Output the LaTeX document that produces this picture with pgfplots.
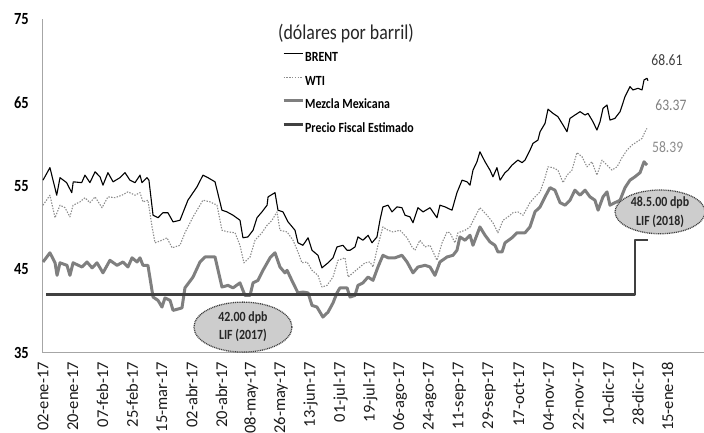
\documentclass[border=0pt]{standalone}
\usepackage{fontspec}
\setmainfont{Carlito}
\newfontfamily\cond[FakeStretch=0.85]{Carlito}
\usepackage{pgfplots}
\pgfplotsset{compat=1.18}
\usetikzlibrary{shapes.geometric}
\definecolor{wticol}{HTML}{8C8C8C}
\definecolor{mezcla}{HTML}{7F7F7F}
\definecolor{fiscal}{HTML}{404040}
\definecolor{axisgray}{HTML}{A6A6A6}
\definecolor{ellfill}{HTML}{CDCDCD}
\begin{document}
\begin{tikzpicture}[x=1pt,y=1pt]
\useasboundingbox (-43,-80) rectangle (661,353);
\begin{axis}[
  at={(0,0)}, anchor=south west, scale only axis,
  width=661pt, height=334pt,
  xmin=0, xmax=400, ymin=35, ymax=75,
  axis x line=bottom, axis y line=left,
  axis line style={axisgray, line width=1pt, -},
  ytick={35,45,55,65,75},
  xtick={0,18,...,378},
  xticklabels={02-ene-17,20-ene-17,07-feb-17,25-feb-17,15-mar-17,02-abr-17,20-abr-17,08-may-17,26-may-17,13-jun-17,01-jul-17,19-jul-17,06-ago-17,24-ago-17,11-sep-17,29-sep-17,17-oct-17,04-nov-17,22-nov-17,10-dic-17,28-dic-17,15-ene-18},
  major tick length=0pt,
  /pgf/number format/assume math mode=true,
  yticklabel style={font=\cond\bfseries\fontsize{17}{17}\selectfont, anchor=east, inner sep=0pt, xshift=-14pt, text=black},
  xticklabel style={rotate=90, anchor=east, inner xsep=9pt, inner ysep=0pt, font=\fontsize{16.5}{16.5}\selectfont, text=black!90},
  no markers,
  clip=false,
  every axis plot/.append style={line join=round},
  legend style={draw=none, fill=none, at={(axis cs:144.6,71.5)}, anchor=north west,
    font=\cond\bfseries\fontsize{14}{14}\selectfont, inner sep=0pt,
    row sep=7pt, nodes={inner sep=0pt, text height=10pt, text depth=3pt},
    /tikz/every odd column/.append style={column sep=1pt}},
  legend cell align=left,
  legend image code/.code={\path[draw=none, fill=none] (0pt,-3pt) rectangle (19pt,10pt); \draw[#1, line cap=butt] (0pt,4.5pt) -- (19pt,4.5pt);},
]
% BRENT
\addplot[black, line width=1.1pt] coordinates {
(0,55.7)(4.2,57.2)(8.3,53.9)(10.3,56.0)(14.3,55.4)(17.4,54.2)(18.3,55.5)(23.4,55.4)(25.4,56.3)(28.4,55.4)
(31.5,56.7)(34.5,56.1)(36.3,55.1)(39.3,56.6)(42.4,55.5)(46.6,56.0)(49.6,56.6)(52.6,55.7)(55.7,55.4)(58.7,56.3)
(59.9,55.4)(62.9,56.0)(64.1,55.7)(66.6,51.5)(69.6,51.2)(72.6,51.8)(75.6,51.8)(78.7,50.7)(82.9,50.9)(84.7,51.8)
(87.7,53.3)(93.2,54.9)(96.8,56.3)(99.8,56.0)(104.1,55.5)(108.3,52.1)(111.3,51.9)(115,51.5)(119.2,50.9)(121,48.8)
(124,48.9)(127.1,49.7)(129.5,51.2)(132.5,51.9)(135.6,52.7)(136.2,53.7)(140.4,54.2)(142.2,52.1)(145.2,51.9)(148.3,50.7)
(152.5,49.7)(154.3,48.2)(157.3,47.9)(160.4,48.8)(162.8,47.3)(166.4,46.7)(168.8,45.2)(172.5,45.8)(175.5,46.4)(177.9,47.7)
(181.5,47.9)(184,47.3)(185.8,47.3)(188.8,47.7)(190.6,48.9)(193.6,48.5)(196.7,49.1)(199.1,48.2)(202.1,48.9)(203.9,50.9)
(205.7,52.5)(208.8,52.7)(211.2,51.9)(214.2,52.5)(217.2,52.4)(219.1,51.5)(222.1,51.3)(223.9,50.6)(226.9,52.4)(230,51.9)
(234.2,52.4)(238.4,51.2)(240.2,52.7)(243.3,52.5)(247.5,52.1)(250.5,54.2)(253.6,55.7)(256.6,55.5)(258.4,55.1)(260.2,56.9)
(262.6,57.9)(264.4,59.1)(267.5,57.9)(270.5,56.9)(272.3,56.1)(274.7,57.2)(276.6,55.7)(279.6,56.6)(281.4,56.9)(283.8,57.5)
(287.4,58.1)(289.9,57.8)(291.7,58.1)(294.7,59.3)(296.5,60.1)(299.5,60.5)(300.8,61.5)(303.8,62.5)(305.6,64.2)(308.6,63.7)
(311.6,63.3)(314.7,62.3)(317.1,61.5)(318.9,63.1)(321.9,63.5)(325,63.9)(328,63.5)(329.8,63.7)(332.8,62.7)(335.2,61.7)
(337.1,62.7)(338.9,64.3)(341.3,64.7)(343.1,62.9)(346.1,63.1)(349.2,63.9)(352.2,65.7)(355.2,66.9)(357,66.5)(360.1,66.7)
(362.5,66.5)(363.7,67.7)(365.5,67.9)(366.1,67.6)
};
\addlegendentry{BRENT}
% WTI
\addplot[wticol, line width=1.1pt, dash pattern=on 1.4pt off 1.4pt] coordinates {
(0,52.7)(4.2,53.9)(7.3,51.2)(10.3,52.7)(13.3,52.4)(16.3,51.3)(18.2,52.7)(22.4,53.1)(25.4,53.6)(28.4,53.0)
(31.5,53.7)(35.7,52.4)(39.3,53.7)(43.6,53.6)(47.8,53.9)(51.4,54.3)(55.7,53.9)(58.7,54.2)(60.5,53.1)(63.5,53.3)
(66,50.1)(67.8,48.2)(72,48.5)(75,48.8)(78.1,47.6)(82.9,47.9)(85.9,49.4)(90.8,51.3)(96.8,53.3)(101.1,53.1)
(105.3,52.7)(108.3,49.7)(112,49.5)(116.2,49.4)(119.2,47.9)(121.6,45.8)(125.3,46.5)(128.3,48.5)(132.5,49.4)(135.6,50.3)
(138.6,50.9)(141.6,51.9)(143.4,49.7)(147.7,49.5)(151.3,48.5)(154.3,47.1)(156.7,45.8)(159.8,45.9)(162.8,44.9)(166.4,44.3)
(168.8,42.9)(171.9,43.1)(175.5,44.1)(178.5,46.1)(182.8,46.4)(184.6,44.1)(187.6,44.6)(191.8,45.3)(194.9,45.8)(197.9,45.9)
(199.7,45.3)(202.7,47.9)(205.7,50.1)(208.8,49.7)(211.8,49.5)(216,49.7)(220.3,48.8)(223.3,47.7)(225.1,47.3)(228.1,48.5)
(231.2,47.7)(234.2,47.9)(238.4,46.1)(241.5,48.2)(244.5,49.5)(246.3,49.4)(249.3,48.2)(251.1,49.4)(255.4,49.7)(258.4,50.1)
(261.4,51.3)(264.4,52.4)(268.7,51.5)(272.3,50.6)(275.3,49.4)(278.4,50.9)(281.4,51.3)(284.4,51.8)(287.4,51.9)(290.5,51.5)
(294.7,53.0)(297.7,53.7)(300.8,54.3)(303.8,56.0)(305.6,57.3)(308.6,57.2)(311.6,56.9)(314.7,55.4)(317.1,56.3)(320.1,56.9)
(323.1,59.0)(326.2,58.5)(329.2,57.3)(332.2,57.9)(335.2,56.3)(338.3,58.1)(341.3,57.5)(344.3,56.9)(347.4,57.3)(350.4,58.4)
(353.4,59.3)(356.4,59.9)(359.5,60.3)(362.5,60.7)(364.3,61.5)(365.5,61.9)
};
\addlegendentry{WTI}
% Mezcla Mexicana
\addplot[mezcla, line width=3pt] coordinates {
(0,45.9)(4.2,47.0)(7.3,45.8)(8.5,44.3)(10.3,45.8)(14.5,45.5)(16.3,44.3)(18.2,45.8)(23.6,45.3)(26.6,45.9)
(29.7,45.2)(32.7,45.8)(36.3,44.6)(40.5,46.1)(44.8,45.5)(48.4,45.9)(51.4,45.3)(53.9,46.4)(56.9,45.9)(58.7,46.4)
(60.5,45.5)(63.5,45.5)(66.6,41.7)(69.6,41.3)(72,40.5)(73.8,41.6)(76.9,41.3)(78.7,40.1)(84.1,40.4)(85.9,42.8)
(90.8,44.1)(95,45.9)(98,46.5)(104.1,46.5)(108.3,42.9)(112,43.1)(115,42.8)(119.2,43.4)(122.2,41.9)(125.3,41.9)
(127.1,43.4)(130.1,43.7)(133.1,44.9)(137.4,46.4)(140.4,47.0)(143.4,45.3)(146.4,44.6)(147.7,44.9)(151.3,43.4)(154.3,42.2)
(157.3,42.3)(160.4,42.2)(162.8,40.7)(165.8,40.5)(169.4,39.3)(172.5,39.9)(175.5,41.0)(177.9,42.2)(179.7,42.8)(184,42.8)
(185.8,41.7)(188.8,41.9)(190.6,43.1)(193.6,43.4)(196.7,44.1)(199.7,43.7)(202.7,45.3)(205.7,46.7)(208.8,46.4)(213,46.4)
(217.2,46.7)(220.3,45.9)(223.9,44.6)(226.9,45.3)(231.2,45.5)(234.2,45.3)(237.2,44.3)(240.2,45.9)(244.5,46.5)(248.1,46.7)
(250.5,47.3)(252.3,48.9)(255.4,48.5)(258.4,49.1)(260.2,47.9)(264.4,50.1)(267.5,49.1)(270.5,48.3)(273.5,47.9)(275.3,47.1)
(277.8,47.1)(279.6,48.2)(283.8,48.8)(286.8,49.4)(291.7,49.4)(294.7,50.1)(297.7,51.9)(300.8,52.5)(303.8,53.7)(306.8,54.8)
(309.8,54.5)(312.9,53.0)(315.9,52.7)(318.9,53.3)(321.9,54.5)(325,53.9)(328,54.5)(331,53.7)(334,53.3)(335.9,52.1)
(338.9,53.7)(341.3,54.3)(343.1,52.7)(346.1,53.0)(349.2,53.3)(352.2,54.8)(355.2,55.7)(358.2,56.1)(361.3,56.6)(363.7,57.9)
(365.5,57.5)
};
\addlegendentry{Mezcla Mexicana}
% Precio Fiscal Estimado
\addplot[fiscal, line width=2.2pt] coordinates {(2,42)(358,42)(358,48.5)(366,48.5)};
\addlegendentry{Precio Fiscal Estimado}

\node[font=\cond\fontsize{21}{21}\selectfont, text=black!85] at (axis cs:183.4,73.3) {(dólares por barril)};
\node[font=\cond\fontsize{16}{16}\selectfont, text=fiscal] at (axis cs:377.6,70.1) {68.61};
\node[font=\cond\fontsize{16}{16}\selectfont, text=black!50] at (axis cs:380,64.7) {63.37};
\node[font=\cond\fontsize{16}{16}\selectfont, text=black!45] at (axis cs:378,59.7) {58.39};

\node[ellipse, draw=fiscal, dash pattern=on 1pt off 0.8pt, line width=1.3pt, fill=ellfill,
  minimum width=98pt, minimum height=50pt, inner sep=0pt, align=center,
  font=\cond\bfseries\fontsize{14}{18}\selectfont, text=black!85] at (axis cs:121,38.1) {42.00 dpb\\LIF (2017)};
\node[ellipse, draw=fiscal, dash pattern=on 1pt off 0.8pt, line width=1.3pt, fill=ellfill,
  minimum width=90pt, minimum height=40pt, inner sep=0pt, align=center,
  font=\cond\bfseries\fontsize{14}{19}\selectfont, text=black!85] at (axis cs:373.4,51.9) {48.5.00 dpb\\LIF (2018)};
\end{axis}
\end{tikzpicture}
\end{document}
